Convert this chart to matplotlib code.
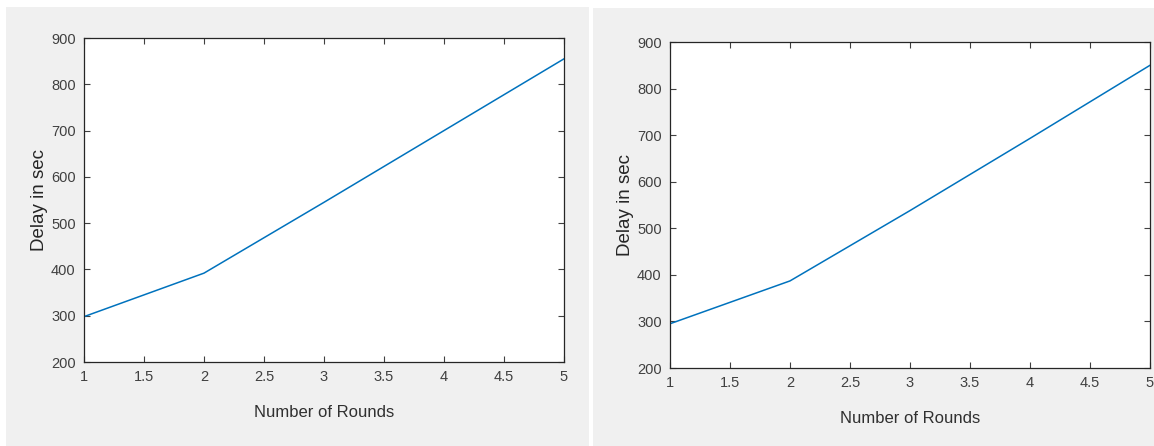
import matplotlib
matplotlib.use("Agg")
import matplotlib.pyplot as plt
from matplotlib.patches import Rectangle

rounds = [1, 2, 3, 4, 5]
delay_left = [298, 392, 545, 700, 855]
delay_right = [295, 387, 538, 693, 850]
xticks = [1, 1.5, 2, 2.5, 3, 3.5, 4, 4.5, 5]
yticks = [200, 300, 400, 500, 600, 700, 800, 900]

plt.rcParams['font.family'] = ["Liberation Sans", "DejaVu Sans"]

W, H = 1154, 446
fig = plt.figure(figsize=(W / 100, H / 100), dpi=100, facecolor="white")
fig.patches.append(Rectangle((6 / W, 0), (589 - 6) / W, (446 - 7) / H,
                             transform=fig.transFigure, facecolor="#f0f0f0", edgecolor="none", zorder=-10))
fig.patches.append(Rectangle((593 / W, 0), (1154 - 593) / W, (446 - 8) / H,
                             transform=fig.transFigure, facecolor="#f0f0f0", edgecolor="none", zorder=-10))

def make(ax_px, data):
    l, t, r, b = ax_px
    ax = fig.add_axes([l / W, 1 - b / H, (r - l) / W, (b - t) / H])
    ax.plot(rounds, data, color="#0072BD", lw=1.1)
    ax.set_xlim(1, 5)
    ax.set_ylim(200, 900)
    ax.set_xticks(xticks)
    ax.set_xticklabels([f"{v:g}" for v in xticks])
    ax.set_yticks(yticks)
    ax.tick_params(direction="in", top=True, right=True, length=4, width=0.8,
                   labelsize=10.5, colors="#404040", pad=6)
    for s in ax.spines.values():
        s.set_color("#262626")
        s.set_linewidth(0.9)
    ax.set_xlabel("Number of Rounds", fontsize=12, color="#303030", labelpad=15)
    ax.set_ylabel("Delay in sec", fontsize=13.5, color="#262626", labelpad=2)
    return ax

make((84, 38, 564, 362), delay_left)
make((670, 42, 1150, 368), delay_right)

fig.savefig("out.png", dpi=100, facecolor="white")
